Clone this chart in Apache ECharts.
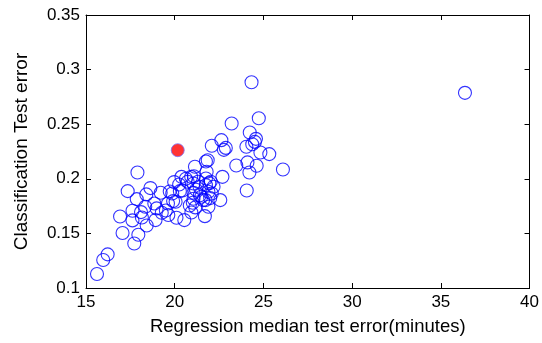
<!DOCTYPE html>
<html>
<head>
<meta charset="utf-8">
<script src="https://cdn.jsdelivr.net/npm/echarts@6/dist/echarts.min.js"></script>
<style>
  html, body { margin: 0; padding: 0; background: #fff; }
  #chart { width: 542px; height: 343px; }
</style>
</head>
<body>
<div id="chart"></div>
<script>
// regression error (minutes) vs classification error
const regErr = [
  15.62, 15.97, 16.22, 17.06, 16.92, 17.72, 17.95, 17.35, 17.9, 17.86,
  17.62, 17.62, 18.1, 18.15, 18.42, 18.4, 18.63, 18.34, 18.85, 18.92,
  18.98, 19.21, 19.27, 19.64, 19.72, 19.62, 19.91, 19.97, 20.1, 20.25,
  20.29, 20.54, 20.63, 20.85, 20.94, 21.14, 21.08, 21.06, 21.06, 21.06,
  21.16, 21.02, 21.4, 21.5, 21.7, 21.76, 21.86, 21.8, 21.76, 21.76,
  21.9, 21.74, 21.9, 22.09, 22.03, 22.09, 22.57, 22.63, 22.69, 22.77,
  22.88, 23.21, 23.47, 24.33, 24.23, 24.04, 24.1, 24.21, 24.06, 24.37,
  24.58, 24.52, 24.74, 24.62, 24.83, 25.33, 26.1, 36.36,
  19.86, 20.05, 20.44, 20.73, 20.93, 21.32, 21.42, 21.6, 22.19, 22.0,
  20.38, 19.5, 21.2, 21.95
];
const clsErr = [
  0.1128, 0.1256, 0.1308, 0.1503, 0.1655, 0.1408, 0.1488, 0.1887, 0.2058, 0.1814,
  0.1707, 0.1619, 0.1695, 0.1646, 0.1573, 0.1857, 0.1915, 0.1744, 0.1774, 0.1622,
  0.1729, 0.1872, 0.1689, 0.1668, 0.1884, 0.1774, 0.1796, 0.197, 0.1643, 0.1948,
  0.1887, 0.1622, 0.2, 0.1756, 0.1692, 0.211, 0.2024, 0.1957, 0.1872, 0.1817,
  0.1738, 0.178, 0.1927, 0.1835, 0.1658, 0.2158, 0.217, 0.2064, 0.2003, 0.1942,
  0.1881, 0.1805, 0.1744, 0.2302, 0.1973, 0.1866, 0.1805, 0.2354, 0.2018, 0.2265,
  0.2283, 0.2506, 0.2122, 0.2884, 0.2424, 0.2293, 0.215, 0.2058, 0.1893, 0.2317,
  0.2366, 0.2338, 0.2555, 0.2119, 0.2241, 0.2226, 0.2085, 0.2787,
  0.1866, 0.179, 0.1893, 0.1973, 0.2018, 0.1973, 0.185, 0.1805, 0.1927, 0.1823,
  0.2018, 0.171, 0.19, 0.196
];
// highlighted model
const bestX = [20.17];
const bestY = [0.2262];

const xTicks = { min: 15, max: 40, interval: 5 };
const yTicks = { min: 0.1, max: 0.35, interval: 0.05 };

const pts = regErr.map((x, i) => [x, clsErr[i]]);
const best = bestX.map((x, i) => [x, bestY[i]]);

const font = 'Liberation Sans, Arial, sans-serif';
const frame = { show: true, lineStyle: { color: '#000', width: 1 } };
const ticks = { show: true, inside: true, length: 5, lineStyle: { color: '#000' } };

let myChart = echarts.init(document.getElementById('chart'), null, { renderer: 'canvas' });
let option = {
  backgroundColor: '#fff',
  animation: false,
  grid: { left: 86, right: 11, top: 15, bottom: 55 },
  xAxis: [
    {
      type: 'value', ...xTicks,
      name: 'Regression median test error(minutes)',
      nameLocation: 'middle', nameGap: 29,
      nameTextStyle: { fontFamily: font, fontSize: 18.5, color: '#000' },
      axisLine: frame,
      axisTick: ticks,
      axisLabel: { fontFamily: font, fontSize: 17, color: '#000', margin: 6 },
      splitLine: { show: false }
    },
    {
      type: 'value', ...xTicks, position: 'top',
      axisLine: frame,
      axisTick: ticks,
      axisLabel: { show: false },
      splitLine: { show: false }
    }
  ],
  yAxis: [
    {
      type: 'value', ...yTicks,
      name: 'Classification Test error',
      nameLocation: 'middle', nameGap: 55,
      nameTextStyle: { fontFamily: font, fontSize: 19, color: '#000' },
      axisLine: frame,
      axisTick: ticks,
      axisLabel: { fontFamily: font, fontSize: 17, color: '#000', margin: 6 },
      splitLine: { show: false }
    },
    {
      type: 'value', ...yTicks, position: 'right',
      axisLine: frame,
      axisTick: ticks,
      axisLabel: { show: false },
      splitLine: { show: false }
    }
  ],
  series: [
    {
      type: 'scatter',
      data: pts,
      symbol: 'circle',
      symbolSize: 13,
      itemStyle: { color: 'rgba(0,0,0,0)', borderColor: '#0000ff', borderWidth: 1.1 }
    },
    {
      type: 'scatter',
      data: best,
      symbol: 'circle',
      symbolSize: 13,
      itemStyle: { color: '#ff0000', borderColor: '#7777ff', borderWidth: 1 }
    }
  ]
};
myChart.setOption(option);
</script>
</body>
</html>
